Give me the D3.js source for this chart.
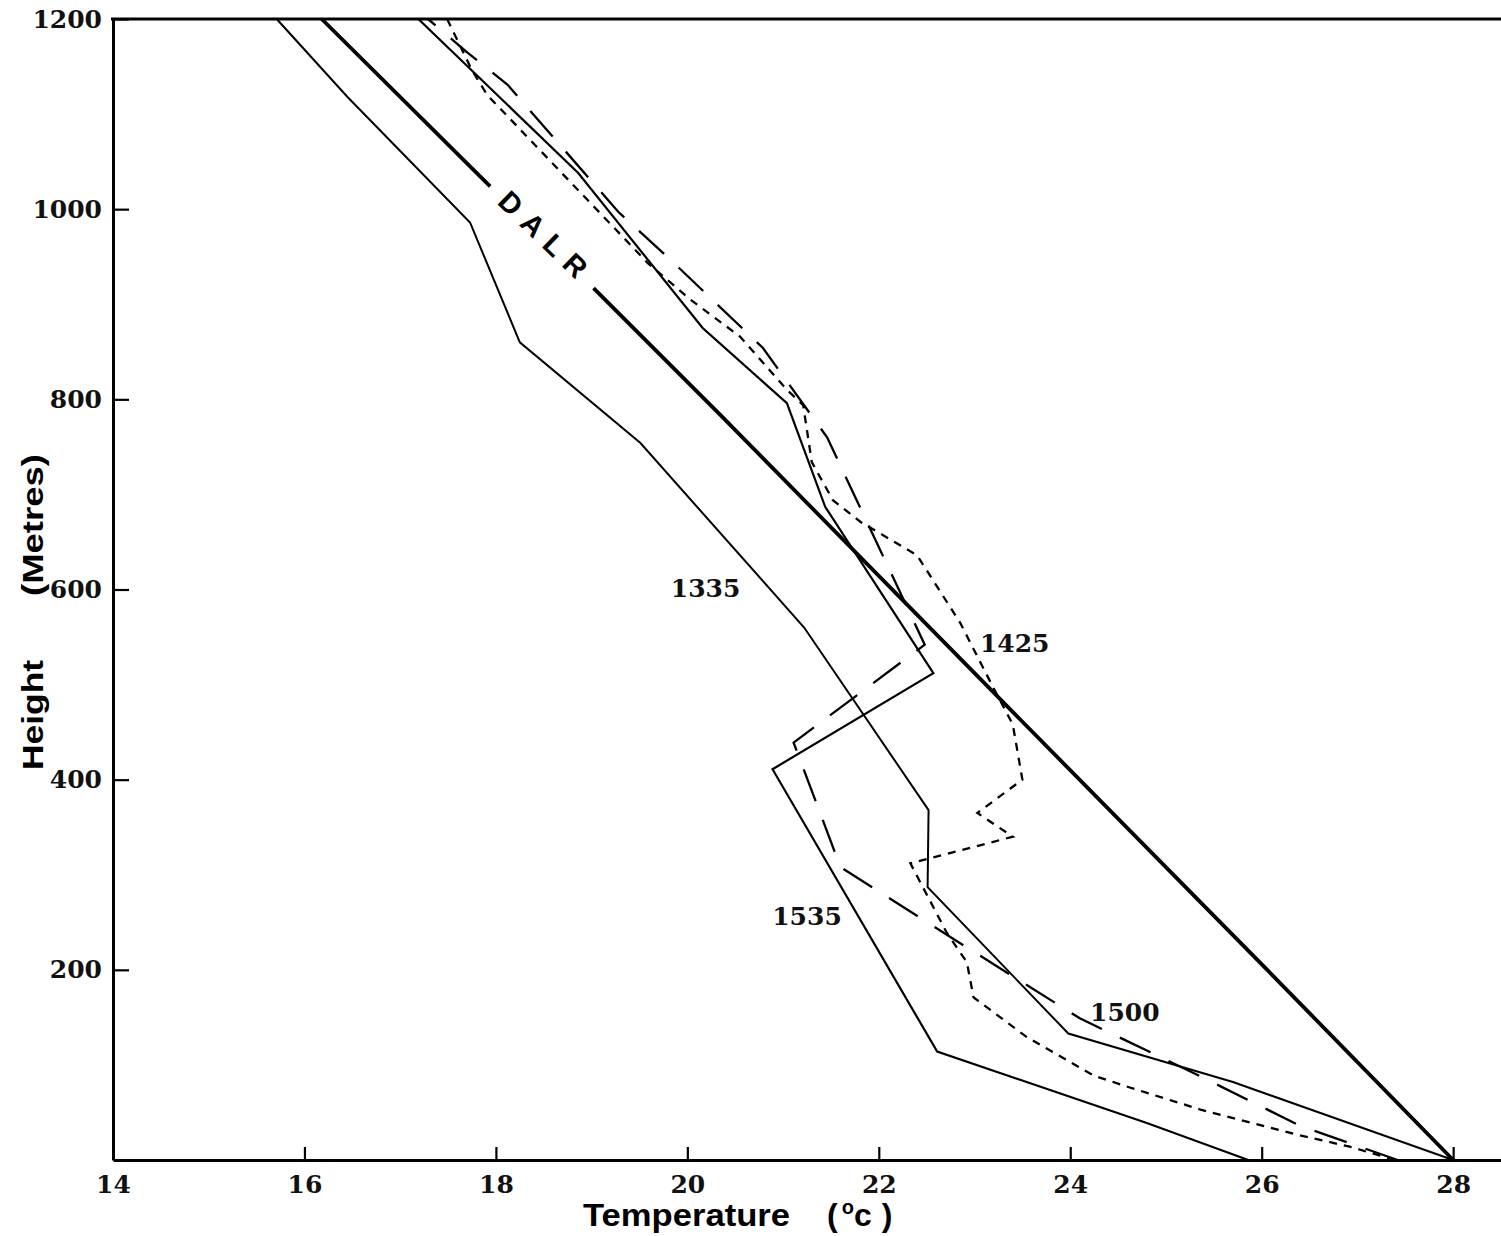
<!DOCTYPE html>
<html>
<head>
<meta charset="utf-8">
<script src="https://cdn.jsdelivr.net/npm/d3@7"></script>
<style>
    body { margin: 0; background: #fff; }
</style>
</head>
<body>
<div id="profile_chart"></div>
<script>
// Temperature (deg C) against height (m)
// null = gap in the DALR line where the label sits
const dalrTemp   = [28.0, 25.96, 23.48, 20.37, 19.02, null, 17.94, 16.18];
const dalrHeight = [0,    210,   463,   781,   917,   null, 1024,  1200];

const temp1335   = [28.0, 25.70, 23.98, 22.51, 22.52, 21.22, 19.51, 18.25, 17.73, 16.45, 15.71];
const height1335 = [0,    82,    133,   287,   368,   560,   754,   860,   986,   1118,  1200];

const temp1425   = [27.39, 26.92, 26.40, 25.36, 24.63, 24.24, 23.55, 22.99, 22.92, 22.71, 22.33, 23.40, 23.03, 23.50,
                    23.40, 23.19, 22.85, 22.40, 21.81, 21.52, 21.30, 21.21, 21.04, 20.55, 20.03, 19.59, 17.91, 17.75, 17.49];
const height1425 = [0,     14,    26,    53,    76,    89,    129,   171,   208,   239,   312,   340,   365,   400,
                    458,   498,   565,   636,   671,   694,   734,   794,   810,   866,   905,   943,   1120,  1146,  1200];

const temp1500   = [27.42, 26.40, 25.36, 24.10, 22.85, 21.60, 21.11, 22.48, 21.46, 20.79, 19.79, 19.28, 18.12, 17.70, 17.29];
const height1500 = [0,     36,    88,    149,   228,   308,   439,   542,   760,   854,   950,   997,   1131,  1165,  1200];

const temp1535   = [25.86, 24.80, 22.61, 20.89, 22.57, 21.44, 21.04, 20.16, 18.86, 17.19];
const height1535 = [0,     39,    114,   411,   512,   687,   796,   875,   1038,  1200];

const tempTicks   = [14, 16, 18, 20, 22, 24, 26, 28];
const heightTicks = [200, 400, 600, 800, 1000, 1200];

// profile labels and where they sit (temperature, height)
const labelNames  = ["1335", "1425", "1500", "1535"];
const labelTemp   = [20.19, 23.42, 24.57, 21.25];
const labelHeight = [602, 544, 156, 257];

function zipSeries(temps, heights) {
    return temps.map(function (t, i) { return { t: t, h: heights[i] }; });
}

function page_load() {
    const svg = d3.select("#profile_chart")
        .append("svg")
        .attr("width", 1501)
        .attr("height", 1236)
        .style("background", "#fff");

    const scaleX = d3.scaleLinear()
        .domain([14, 28.5])
        .range([113, 1501]);

    const scaleY = d3.scaleLinear()
        .domain([0, 1200])
        .range([1160, 19]);

    const line = d3.line()
        .defined(function (d) { return d.t !== null; })
        .x(function (d) { return scaleX(d.t); })
        .y(function (d) { return scaleY(d.h); });

    // axes - ticks point inwards like the original
    const axisX = d3.axisBottom(scaleX)
        .tickValues(tempTicks)
        .tickFormat(d3.format("d"))
        .tickSizeInner(-13)
        .tickSizeOuter(0)
        .tickPadding(15);

    const axisY = d3.axisLeft(scaleY)
        .tickValues(heightTicks)
        .tickFormat(d3.format("d"))
        .tickSizeInner(-16)
        .tickSizeOuter(0)
        .tickPadding(11);

    svg.append("g")
        .attr("id", "axisX")
        .attr("transform", `translate(0, ${scaleY(0)})`)
        .call(axisX);

    svg.append("g")
        .attr("id", "axisY")
        .attr("transform", `translate(${scaleX(14)}, 0)`)
        .call(axisY);

    svg.selectAll("#axisX, #axisY")
        .attr("font-family", null)
        .attr("font-size", null);
    svg.selectAll(".domain").attr("stroke-width", 3);
    svg.selectAll(".tick line").attr("stroke-width", 2.2);
    svg.selectAll(".tick text")
        .style("font-family", "'DejaVu Serif', serif")
        .style("font-weight", "bold")
        .style("font-size", "25px")
        .attr("fill", "#111");

    // top border
    svg.append("line")
        .attr("x1", scaleX(14) - 2)
        .attr("x2", 1501)
        .attr("y1", scaleY(1200))
        .attr("y2", scaleY(1200))
        .attr("stroke", "#000")
        .attr("stroke-width", 3);

    // profiles
    const series = [
        { data: zipSeries(dalrTemp, dalrHeight), width: 3.8, dash: null },
        { data: zipSeries(temp1335, height1335), width: 2, dash: null },
        { data: zipSeries(temp1535, height1535), width: 2.2, dash: null },
        { data: zipSeries(temp1500, height1500), width: 2.3, dash: "34,20" },
        { data: zipSeries(temp1425, height1425), width: 2.3, dash: "8,7" }
    ];

    svg.selectAll("path.profile")
        .data(series)
        .enter()
        .append("path")
        .attr("class", "profile")
        .attr("d", function (d) { return line(d.data); })
        .attr("fill", "none")
        .attr("stroke", "#000")
        .attr("stroke-width", function (d) { return d.width; })
        .attr("stroke-dasharray", function (d) { return d.dash; })
        .attr("stroke-linejoin", "miter");

    // time labels
    svg.selectAll("text.profile-label")
        .data(labelNames)
        .enter()
        .append("text")
        .attr("class", "profile-label")
        .attr("x", function (d, i) { return scaleX(labelTemp[i]); })
        .attr("y", function (d, i) { return scaleY(labelHeight[i]); })
        .attr("dy", "0.36em")
        .attr("text-anchor", "middle")
        .style("font-family", "'DejaVu Serif', serif")
        .style("font-weight", "bold")
        .style("font-size", "25px")
        .attr("fill", "#111")
        .text(function (d) { return d; });

    // DALR label, sits in the gap of the line
    svg.append("text")
        .attr("transform", `translate(${scaleX(18.47) + 6}, ${scaleY(970)}) rotate(44)`)
        .attr("dy", "0.36em")
        .attr("text-anchor", "middle")
        .style("font-family", "'Liberation Sans', Arial, sans-serif")
        .style("font-weight", "bold")
        .style("font-size", "29px")
        .style("letter-spacing", "10px")
        .text("DALR");

    // axis titles
    svg.append("text")
        .attr("x", 583)
        .attr("y", 1226)
        .attr("textLength", 207)
        .attr("lengthAdjust", "spacingAndGlyphs")
        .style("font-family", "'Liberation Sans', Arial, sans-serif")
        .style("font-weight", "bold")
        .style("font-size", "32px")
        .text("Temperature");

    const unit = svg.append("text")
        .attr("x", 827)
        .attr("y", 1226)
        .style("font-family", "'Liberation Sans', Arial, sans-serif")
        .style("font-weight", "bold")
        .style("font-size", "32px");
    unit.append("tspan").text("(");
    unit.append("tspan").attr("dx", 4).attr("dy", -12).style("font-size", "20px").text("o");
    unit.append("tspan").attr("dy", 12).text("c");
    unit.append("tspan").attr("dx", 10).text(")");

    svg.append("text")
        .attr("transform", "translate(43, 715) rotate(-90)")
        .attr("text-anchor", "middle")
        .attr("textLength", 110)
        .attr("lengthAdjust", "spacingAndGlyphs")
        .style("font-family", "'Liberation Sans', Arial, sans-serif")
        .style("font-weight", "bold")
        .style("font-size", "30px")
        .text("Height");

    svg.append("text")
        .attr("transform", "translate(43, 525) rotate(-90)")
        .attr("text-anchor", "middle")
        .attr("textLength", 142)
        .attr("lengthAdjust", "spacingAndGlyphs")
        .style("font-family", "'Liberation Sans', Arial, sans-serif")
        .style("font-weight", "bold")
        .style("font-size", "30px")
        .text("(Metres)");
}

page_load();
</script>
</body>
</html>
